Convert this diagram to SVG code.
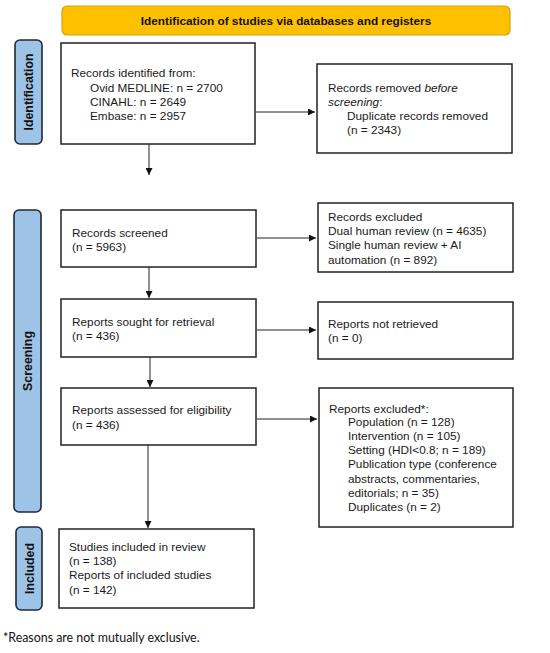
<svg xmlns="http://www.w3.org/2000/svg" width="550" height="653" viewBox="0 0 550 653">
<defs>
<style>
.box{fill:#fff;stroke:#222;stroke-width:1.5}
.side{fill:#9DC3E6;stroke:#1f2a36;stroke-width:1.6}
.t{font-family:"Liberation Sans",Arial,sans-serif;font-size:11.8px;fill:#1a1a1a}
.sl{font-family:"Liberation Sans",Arial,sans-serif;font-size:12.4px;font-weight:bold;fill:#111;text-anchor:middle}
.ban{font-family:"Liberation Sans",Arial,sans-serif;font-size:11.8px;font-weight:bold;fill:#111;text-anchor:middle}
.c{stroke:#222;stroke-width:1;fill:none;marker-end:url(#ah)}
.fn{font-family:Lato,"Open Sans",sans-serif;font-size:12.4px;fill:#111}
</style>
<marker id="ah" viewBox="0 0 10 10" refX="10" refY="5" markerWidth="7" markerHeight="7" markerUnits="userSpaceOnUse" orient="auto">
<path d="M0,0 L10,5 L0,10 z" fill="#111"/>
</marker>
</defs>
<rect width="550" height="653" fill="#fff"/>
<g id="banner">
<rect x="62" y="6" width="448" height="29" rx="5" fill="#FFC000" stroke="#D4A017" stroke-width="1.2"/>
<text class="ban" x="286" y="25">Identification of studies via databases and registers</text>
</g>
<g id="lbl-identification">
<rect class="side" x="15" y="40" width="27" height="104" rx="5"/>
<text class="sl" transform="translate(33,92) rotate(-90)">Identification</text>
</g>
<g id="lbl-screening">
<rect class="side" x="14" y="210" width="27" height="302" rx="5"/>
<text class="sl" transform="translate(32,361) rotate(-90)">Screening</text>
</g>
<g id="lbl-included">
<rect class="side" x="16" y="527" width="26" height="83" rx="5"/>
<text class="sl" transform="translate(33.5,568.5) rotate(-90)">Included</text>
</g>
<g id="n-identified">
<rect class="box" x="61" y="43" width="194" height="101"/>
<text class="t" x="71" y="77">Records identified from:</text>
<text class="t" x="90" y="92">Ovid MEDLINE: n = 2700</text>
<text class="t" x="90" y="106">CINAHL: n = 2649</text>
<text class="t" x="90" y="120">Embase: n = 2957</text>
</g>
<g id="n-removed">
<rect class="box" x="317" y="64" width="195" height="89"/>
<text class="t" x="328" y="92">Records removed <tspan font-style="italic">before</tspan></text>
<text class="t" x="328" y="106"><tspan font-style="italic">screening</tspan>:</text>
<text class="t" x="347" y="120">Duplicate records removed</text>
<text class="t" x="347" y="134">(n = 2343)</text>
</g>
<g id="n-screened">
<rect class="box" x="61" y="210" width="195" height="57"/>
<text class="t" x="72" y="237">Records screened</text>
<text class="t" x="72" y="251">(n = 5963)</text>
</g>
<g id="n-excluded1">
<rect class="box" x="318" y="203" width="195" height="69"/>
<text class="t" x="328" y="221">Records excluded</text>
<text class="t" x="328" y="235">Dual human review (n = 4635)</text>
<text class="t" x="328" y="249">Single human review + AI</text>
<text class="t" x="328" y="264">automation (n = 892)</text>
</g>
<g id="n-sought">
<rect class="box" x="61" y="299" width="195" height="58"/>
<text class="t" x="72" y="326">Reports sought for retrieval</text>
<text class="t" x="72" y="340">(n = 436)</text>
</g>
<g id="n-notretrieved">
<rect class="box" x="318" y="302" width="195" height="57"/>
<text class="t" x="328" y="328">Reports not retrieved</text>
<text class="t" x="328" y="342">(n = 0)</text>
</g>
<g id="n-assessed">
<rect class="box" x="61" y="388" width="195" height="57"/>
<text class="t" x="72" y="414">Reports assessed for eligibility</text>
<text class="t" x="72" y="429">(n = 436)</text>
</g>
<g id="n-excluded2">
<rect class="box" x="319" y="388" width="194" height="139"/>
<text class="t" x="329" y="413">Reports excluded*:</text>
<text class="t" x="348" y="426">Population (n = 128)</text>
<text class="t" x="348" y="440">Intervention (n = 105)</text>
<text class="t" x="348" y="454">Setting (HDI&lt;0.8; n = 189)</text>
<text class="t" x="348" y="468">Publication type (conference</text>
<text class="t" x="348" y="483">abstracts, commentaries,</text>
<text class="t" x="348" y="497">editorials; n = 35)</text>
<text class="t" x="348" y="511">Duplicates (n = 2)</text>
</g>
<g id="n-included">
<rect class="box" x="59" y="529" width="195" height="79"/>
<text class="t" x="69" y="551">Studies included in review</text>
<text class="t" x="69" y="565">(n = 138)</text>
<text class="t" x="69" y="579">Reports of included studies</text>
<text class="t" x="69" y="594">(n = 142)</text>
</g>
<g id="connectors">
<line class="c" x1="256" y1="112" x2="315" y2="112"/>
<line class="c" x1="149" y1="144" x2="149" y2="175"/>
<line class="c" x1="257" y1="238" x2="316" y2="238"/>
<line class="c" x1="149" y1="267" x2="149" y2="298"/>
<line class="c" x1="257" y1="330" x2="316" y2="330"/>
<line class="c" x1="150" y1="357" x2="150" y2="387"/>
<line class="c" x1="257" y1="419" x2="317" y2="419"/>
<line class="c" x1="148" y1="445" x2="148" y2="528"/>
</g>
<text class="fn" x="3" y="642">*Reasons are not mutually exclusive.</text>
</svg>
